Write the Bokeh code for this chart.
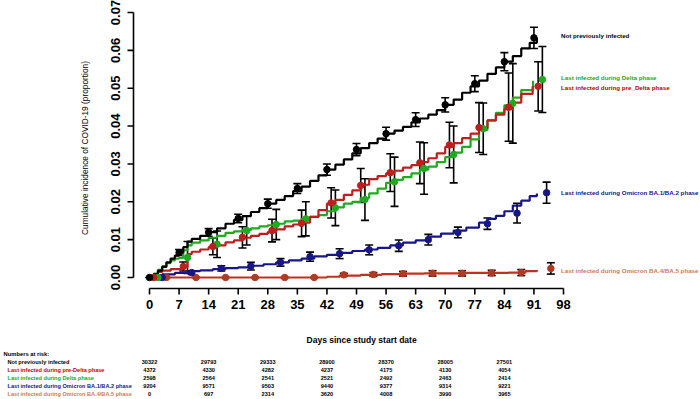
import math
from bokeh.plotting import figure
from bokeh.models import Range1d, Whisker, TeeHead, ColumnDataSource
from bokeh.core.properties import value
from bokeh.embed import file_html
from bokeh.resources import INLINE

# ---------------- data ----------------
groups = ["Not previously infected",
          "Last infected during pre_Delta phase",
          "Last infected during Delta phase",
          "Last infected during Omicron BA.1/BA.2 phase",
          "Last infected during Omicron BA.4/BA.5 phase"]
table_groups = ["Not previously infected",
                "Last infected during pre-Delta phase",
                "Last infected during Delta phase",
                "Last infected during Omicron BA.1/BA.2 phase",
                "Last infected during Omicron BA.4/BA.5 phase"]

black_days = [0, 1, 2, 3, 4, 5, 6, 7, 8, 9, 10, 12, 14, 16, 18, 20, 22, 24, 26, 28, 30, 32, 34, 36, 38, 40,
              42, 44, 46, 48, 50, 52, 54, 56, 58, 60, 62, 64, 66, 68, 70, 72, 74, 76, 78, 80, 82, 84, 86, 88, 90, 91.7]
black_vals = [0, 0.0008, 0.0018, 0.0028, 0.004, 0.005, 0.0058, 0.0066, 0.008, 0.0095, 0.0102, 0.011, 0.012,
              0.013, 0.0142, 0.0152, 0.0162, 0.0173, 0.0183, 0.0195, 0.0205, 0.0215, 0.0228, 0.024, 0.0255,
              0.027, 0.0285, 0.0298, 0.0312, 0.0328, 0.0342, 0.0355, 0.0367, 0.038, 0.0388, 0.0398, 0.041,
              0.042, 0.043, 0.0442, 0.0456, 0.047, 0.0488, 0.0505, 0.052, 0.0538, 0.0555, 0.057, 0.0585,
              0.0605, 0.062, 0.0633]
red_days = [0, 1, 2, 3, 5, 8, 9, 10, 12, 14, 16, 18, 20, 22, 24, 26, 28, 30, 32, 34, 36, 38, 40, 42, 44, 46,
            48, 50, 52, 54, 56, 58, 60, 62, 64, 66, 68, 70, 72, 74, 76, 78, 80, 82, 84, 86, 88, 90.7]
red_vals = [0, 0.0008, 0.0015, 0.0018, 0.0022, 0.0028, 0.0062, 0.0068, 0.0074, 0.008, 0.0085, 0.0093, 0.0098,
            0.0105, 0.011, 0.0115, 0.012, 0.0127, 0.0135, 0.014, 0.0145, 0.016, 0.0178, 0.0195, 0.0205,
            0.0218, 0.023, 0.0245, 0.026, 0.0268, 0.0275, 0.0282, 0.029, 0.0297, 0.0305, 0.0315, 0.0328,
            0.0345, 0.0355, 0.0368, 0.038, 0.0395, 0.0415, 0.043, 0.0445, 0.0462, 0.0485, 0.0505]
green_days = [0, 1, 2, 3, 4, 5, 6, 7, 8, 9, 10, 12, 14, 16, 18, 20, 22, 24, 26, 28, 30, 32, 34, 36, 38, 40,
              42, 44, 46, 48, 50, 52, 54, 56, 58, 60, 62, 64, 66, 68, 70, 72, 74, 76, 78, 80, 82, 84, 86, 88, 90.8]
green_vals = [0, 0.001, 0.002, 0.003, 0.0038, 0.0045, 0.005, 0.0052, 0.0072, 0.0085, 0.0092, 0.0098, 0.0105,
              0.011, 0.0118, 0.0122, 0.0125, 0.013, 0.0135, 0.0138, 0.0142, 0.0148, 0.015, 0.0155, 0.016,
              0.0165, 0.0175, 0.0185, 0.0195, 0.02, 0.021, 0.0222, 0.0235, 0.025, 0.0258, 0.0265, 0.0275,
              0.0285, 0.0293, 0.0305, 0.0318, 0.033, 0.0345, 0.0365, 0.039, 0.0415, 0.0435, 0.0455, 0.0475,
              0.0495, 0.052]
blue_days = [0, 1, 3, 6, 9, 12, 15, 18, 21, 24, 27, 30, 33, 36, 39, 42, 45, 48, 51, 54, 57, 60, 63, 66, 69,
             72, 75, 78, 80, 82, 84, 86, 88, 90, 91.7]
blue_vals = [0, 0.0005, 0.0008, 0.0012, 0.0017, 0.0019, 0.0022, 0.0025, 0.0027, 0.0031, 0.0035, 0.004,
             0.0045, 0.005, 0.0056, 0.006, 0.0065, 0.007, 0.0074, 0.0078, 0.0085, 0.0092, 0.0098, 0.0108,
             0.0116, 0.0124, 0.0132, 0.0145, 0.0155, 0.0163, 0.0175, 0.019, 0.0203, 0.0215, 0.0222]
orange_days = [0, 42, 45, 50, 55, 60, 65, 75, 85, 89, 91.7]
orange_vals = [0, 0.0002, 0.0005, 0.0007, 0.0009, 0.001, 0.0011, 0.0012, 0.0013, 0.0017, 0.002]

week_days = [0, 7, 14, 21, 28, 35, 42, 49, 56, 63, 70, 77, 84, 91]
black_pts = [0, 0.0066, 0.0119, 0.0156, 0.0195, 0.0235, 0.0285, 0.0338, 0.038, 0.0417, 0.0456, 0.0512, 0.057, 0.0633]
black_err = [0, 0.0008, 0.001, 0.0011, 0.0012, 0.0013, 0.0015, 0.0016, 0.0017, 0.0018, 0.0019, 0.0021, 0.0024, 0.0028]
red_pts = [0, 0.0029, 0.0082, 0.0106, 0.0124, 0.0143, 0.0197, 0.0243, 0.0277, 0.0303, 0.035, 0.0396, 0.045, 0.0505]
red_err = [0, 0.0012, 0.0022, 0.0028, 0.003, 0.0035, 0.004, 0.0045, 0.005, 0.0055, 0.006, 0.0066, 0.009, 0.0065]
green_pts = [0, 0.0053, 0.0088, 0.0124, 0.014, 0.0155, 0.0184, 0.0206, 0.0253, 0.0288, 0.0325, 0.0393, 0.046, 0.0523]
green_err = [0, 0.0042, 0.0035, 0.0038, 0.004, 0.0045, 0.0047, 0.0055, 0.0065, 0.0068, 0.0075, 0.0068, 0.0105, 0.0087]
blue_pts = [0, 0.0013, 0.0024, 0.003, 0.004, 0.0055, 0.0063, 0.0073, 0.0084, 0.010, 0.0119, 0.0142, 0.017, 0.0224]
blue_err = [0, 0.0005, 0.0007, 0.001, 0.001, 0.0012, 0.0013, 0.0013, 0.0015, 0.0014, 0.0014, 0.0015, 0.0026, 0.0028]
orange_pts = [0, 0, 0, 0, 0, 0, 0.0007, 0.0008, 0.001, 0.0011, 0.0011, 0.0012, 0.0013, 0.0024]
orange_err = [0, 0, 0, 0, 0, 0, 0.0004, 0.0005, 0.0006, 0.0007, 0.0007, 0.0007, 0.0008, 0.0015]

risk_days = [0, 14, 28, 42, 56, 70, 84]
risk_black = [30322, 29793, 29333, 28900, 28370, 28005, 27501]
risk_red = [4372, 4330, 4282, 4237, 4175, 4130, 4054]
risk_green = [2598, 2564, 2541, 2521, 2492, 2463, 2414]
risk_blue = [9204, 9571, 9503, 9440, 9377, 9314, 9221]
risk_orange = [0, 697, 2314, 3620, 4008, 3990, 3965]

x_ticks = [0, 7, 14, 21, 28, 35, 42, 49, 56, 63, 70, 77, 84, 91, 98]
y_ticks = [0.0, 0.01, 0.02, 0.03, 0.04, 0.05, 0.06, 0.07]

# ---------------- layout / styling ----------------
W, H = 700, 399
FONT = "Liberation Sans"
C_BLACK = "#000000"
C_RED = "#BE1E1E"
C_GREEN = "#1FAA1F"
C_BLUE = "#16168A"
C_ORANGE_LINE = "#C2301E"
C_ORANGE_PT = "#B03A24"
C_ORANGE_TXT = "#D27A50"

# scale: day 0 at px 149, 4.2245 px/day; value 0 at px 277, 3785.7 px/unit
PX_PER_DAY = 4.2245
PX_PER_UNIT = 3785.7
X0_PX, Y0_PX = 149, 277
x_lo = -X0_PX / PX_PER_DAY
x_hi = (W - X0_PX) / PX_PER_DAY
y_hi = Y0_PX / PX_PER_UNIT
y_lo = (Y0_PX - H) / PX_PER_UNIT


def dx(px):   # horizontal pixel offset -> days
    return px / PX_PER_DAY


def dy(px):   # vertical pixel offset -> units
    return px / PX_PER_UNIT


p = figure(width=W, height=H, output_backend="svg", toolbar_location=None,
           x_range=Range1d(x_lo, x_hi), y_range=Range1d(y_lo, y_hi),
           x_axis_type=None, y_axis_type=None, min_border=0, title=None)
p.outline_line_color = None
p.grid.visible = False

series = [
    (black_days, black_vals, black_pts, black_err, C_BLACK, C_BLACK, 0),
    (red_days, red_vals, red_pts, red_err, C_RED, C_RED, 1),
    (green_days, green_vals, green_pts, green_err, C_GREEN, C_GREEN, 2),
    (blue_days, blue_vals, blue_pts, blue_err, C_BLUE, C_BLUE, 3),
    (orange_days, orange_vals, orange_pts, orange_err, C_ORANGE_LINE, C_ORANGE_PT, 4),
]
for sd, sv, pts, err, lc, pc, off in reversed(series):
    p.step(sd, sv, mode="after", line_color=lc, line_width=2.2)
for sd, sv, pts, err, lc, pc, off in reversed(series):
    xs = [d + off for d in week_days]
    src = ColumnDataSource(dict(x=xs, y=pts,
                                lo=[v - e for v, e in zip(pts, err)],
                                hi=[v + e for v, e in zip(pts, err)]))
    w = Whisker(source=src, base="x", lower="lo", upper="hi", line_color="black", line_width=1.6,
                upper_head=TeeHead(size=8, line_color="black", line_width=1.6),
                lower_head=TeeHead(size=8, line_color="black", line_width=1.6))
    p.add_layout(w)
    p.scatter("x", "y", source=src, size=6.5, fill_color=pc, line_color=pc)

# ---- R-style detached axes, positioned through the plot's own scales ----
y_axis_x = -dx(16)            # y axis 16 px left of day 0
x_axis_y = -dy(11)            # x axis 11 px below zero
tick_len_x, tick_len_y = dx(6), dy(6)

# y axis
p.segment(x0=[y_axis_x], y0=[y_ticks[0]], x1=[y_axis_x], y1=[y_ticks[-1]], line_color="black", line_width=1.6)
p.segment(x0=[y_axis_x] * len(y_ticks), y0=y_ticks, x1=[y_axis_x - tick_len_x] * len(y_ticks), y1=y_ticks,
          line_color="black", line_width=1.6)
p.text(x=[y_axis_x - dx(18)] * len(y_ticks), y=y_ticks, text=[f"{t:.2f}" for t in y_ticks],
       angle=math.pi / 2, text_font=value(FONT), text_font_size="13px", text_font_style="bold",
       text_align="center", text_baseline="middle", text_color="black")
p.text(x=[y_axis_x - dx(49)], y=[y_ticks[-1] / 2 - dy(3)], text=["Cumulative incidence of COVID-19 (proportion)"],
       angle=math.pi / 2, text_font=value(FONT), text_font_size="8.3px", text_align="center",
       text_baseline="middle", text_color="black")

# x axis
p.segment(x0=[x_ticks[0]], y0=[x_axis_y], x1=[x_ticks[-1]], y1=[x_axis_y], line_color="black", line_width=1.6)
p.segment(x0=x_ticks, y0=[x_axis_y] * len(x_ticks), x1=x_ticks, y1=[x_axis_y - tick_len_y] * len(x_ticks),
          line_color="black", line_width=1.6)
p.text(x=x_ticks, y=[x_axis_y - dy(16)] * len(x_ticks), text=[str(t) for t in x_ticks],
       text_font=value(FONT), text_font_size="13px", text_font_style="bold",
       text_align="center", text_baseline="middle", text_color="black")
p.text(x=[50.2], y=[x_axis_y - dy(51)], text=["Days since study start date"], text_font=value(FONT),
       text_font_size="8.5px", text_font_style="bold", text_align="center", text_baseline="middle")

# end-of-curve labels
end_labels = [
    (groups[0], 0.0639, C_BLACK),
    (groups[2], 0.0528, "#1AA81A"),
    (groups[1], 0.0502, "#B80000"),
    (groups[3], 0.0225, C_BLUE),
    (groups[4], 0.0018, C_ORANGE_TXT),
]
for txt, yv, col in end_labels:
    p.text(x=[97.4], y=[yv], text=[txt], text_font=value(FONT), text_font_size="6.2px",
           text_font_style="bold", text_color=col, text_baseline="middle")

# numbers at risk table (rows 8 px apart, below the axis title)
table_top = x_axis_y - dy(65)
p.text(x=[x_lo + dx(3)], y=[table_top], text=["Numbers at risk:"], text_font=value(FONT),
       text_font_size="5.8px", text_font_style="bold", text_baseline="middle")
row_cols = [C_BLACK, "#D00000", "#10B010", C_BLUE, C_ORANGE_TXT]
risk_rows = [risk_black, risk_red, risk_green, risk_blue, risk_orange]
for i, (g, col, vals) in enumerate(zip(table_groups, row_cols, risk_rows)):
    yv = table_top - dy(8 * (i + 1))
    p.text(x=[x_lo + dx(7)], y=[yv], text=[g], text_font=value(FONT), text_font_size="5.6px",
           text_font_style="bold", text_color=col, text_baseline="middle")
    p.text(x=risk_days, y=[yv] * len(risk_days), text=[str(n) for n in vals], text_font=value(FONT),
           text_font_size="5.6px", text_font_style="bold", text_color="black",
           text_align="center", text_baseline="middle")

open("out.html", "w").write(file_html(p, INLINE))
